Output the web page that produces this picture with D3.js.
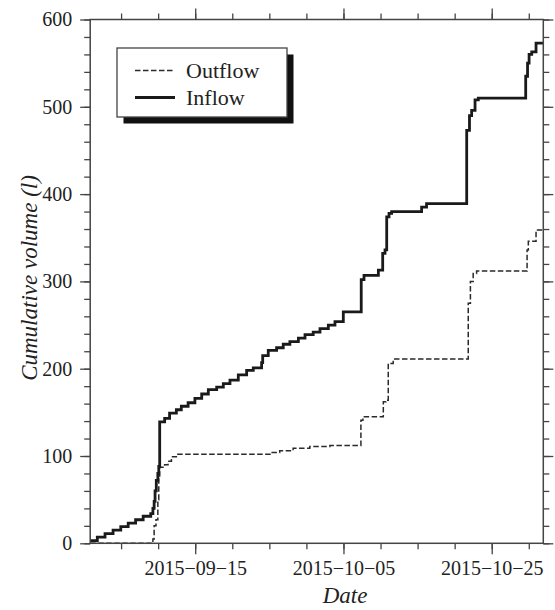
<!DOCTYPE html>
<html>
<head>
<meta charset="utf-8">
<script src="https://cdn.jsdelivr.net/npm/d3@7"></script>
<style>
  html, body { margin: 0; padding: 0; background: #fff; }
  svg { display: block; }
  text { font-family: "Liberation Serif", "DejaVu Serif", serif; fill: #222; }
</style>
</head>
<body>
<svg id="chart" width="555" height="610"></svg>
<script>
// Cumulative inflow record (litres), step changes at logged times
const inflowTimes = [
  "2015-08-31 20:00", "2015-09-01 19:00", "2015-09-02 20:00", "2015-09-03 22:00",
  "2015-09-04 23:00", "2015-09-05 23:00", "2015-09-06 23:00", "2015-09-07 23:30",
  "2015-09-09 00:00", "2015-09-09 07:00", "2015-09-09 11:00", "2015-09-09 14:00",
  "2015-09-09 18:00", "2015-09-09 23:00", "2015-09-10 02:00", "2015-09-10 05:00",
  "2015-09-10 21:00", "2015-09-11 13:00", "2015-09-12 11:00", "2015-09-13 03:00",
  "2015-09-14 01:00", "2015-09-14 23:00", "2015-09-15 21:00", "2015-09-16 18:30",
  "2015-09-17 21:30", "2015-09-18 19:00", "2015-09-19 16:30", "2015-09-20 19:30",
  "2015-09-21 22:30", "2015-09-22 20:00", "2015-09-23 23:00", "2015-09-24 02:30",
  "2015-09-24 20:30", "2015-09-25 23:30", "2015-09-26 21:00", "2015-09-27 18:30",
  "2015-09-28 22:00", "2015-09-29 19:30", "2015-09-30 22:00", "2015-10-01 20:00",
  "2015-10-02 23:00", "2015-10-03 20:30", "2015-10-04 23:30", "2015-10-07 09:30",
  "2015-10-07 18:30", "2015-10-09 17:00", "2015-10-10 07:00", "2015-10-10 14:30",
  "2015-10-10 20:00", "2015-10-11 03:30", "2015-10-11 12:00", "2015-10-15 13:00",
  "2015-10-16 05:00", "2015-10-21 15:00", "2015-10-22 00:00", "2015-10-22 07:00",
  "2015-10-22 18:00", "2015-10-23 04:30", "2015-10-29 14:00", "2015-10-29 20:00",
  "2015-10-30 01:00", "2015-10-30 09:30", "2015-10-30 23:30", "2015-10-31 23:00"
];
const inflowValues = [
  3, 7, 11, 15,
  19, 23, 27, 31,
  34, 40, 48, 60,
  72, 80, 88, 139,
  143, 149, 153, 157,
  161, 166, 171, 176,
  179, 183, 187, 193,
  198, 201, 207, 215,
  221, 224, 228, 231,
  235, 239, 242, 246,
  250, 254, 265, 302,
  307, 313, 332, 336,
  374, 378, 380, 385,
  389, 473, 490, 496,
  508, 510, 535, 550,
  560, 563, 573, 573
];

// Cumulative outflow record (litres)
const outflowTimes = [
  "2015-08-31 20:00", "2015-09-09 07:00", "2015-09-09 11:00", "2015-09-09 17:00",
  "2015-09-09 23:00", "2015-09-10 02:00", "2015-09-10 05:00", "2015-09-10 21:00",
  "2015-09-11 08:00", "2015-09-11 19:00", "2015-09-12 11:00", "2015-09-25 02:00",
  "2015-09-26 09:30", "2015-09-28 05:00", "2015-09-30 11:00", "2015-10-03 04:00",
  "2015-10-07 08:30", "2015-10-07 15:00", "2015-10-10 09:00", "2015-10-10 17:30",
  "2015-10-11 01:00", "2015-10-11 17:00", "2015-10-21 20:00", "2015-10-22 03:00",
  "2015-10-22 12:00", "2015-10-22 23:00", "2015-10-29 18:30", "2015-10-29 22:30",
  "2015-10-30 23:30", "2015-10-31 23:00"
];
const outflowValues = [
  0, 5, 20, 27,
  50, 76, 87, 90,
  94, 99, 102, 104,
  106, 109, 111, 112,
  141, 145, 162, 164,
  206, 211, 275, 300,
  309, 312, 336, 346,
  359, 359
];

// Axis settings
const xDomain = ["2015-08-31 20:00", "2015-10-31 23:00"];
const xMajorTicks = ["2015-09-15", "2015-10-05", "2015-10-25"];
const xMinorRef = "2015-09-15";
const yMajorTicks = [0, 100, 200, 300, 400, 500, 600];
const yMinorStep = 20;
const seriesNames = ["Outflow", "Inflow"];
const xTitle = "Date";
const yTitle = "Cumulative volume (l)";

(function draw() {
  const parseTime = d3.timeParse("%Y-%m-%d %H:%M");
  const parseDay = d3.timeParse("%Y-%m-%d");
  const fmtDay = d3.timeFormat("%Y\u2212%m\u2212%d");

  const svg = d3.select("#chart");
  const pl = 90.2, pr = 543.3, pt = 19.5, pb = 543.3;
  const axisColor = "#444";

  const x = d3.scaleTime().domain(xDomain.map(parseTime)).range([pl, pr]);
  const y = d3.scaleLinear().domain([0, 600]).range([pb, pt]);

  const inflow = inflowTimes.map((t, i) => ({ t: parseTime(t), v: inflowValues[i] }));
  const outflow = outflowTimes.map((t, i) => ({ t: parseTime(t), v: outflowValues[i] }));

  // minor date ticks every 5 days, aligned with the labelled dates
  const ref = parseDay(xMinorRef);
  const xMinor = d3.timeDay.range(d3.timeDay.ceil(x.domain()[0]), x.domain()[1])
    .filter(d => ((d3.timeDay.count(ref, d) % 5) + 5) % 5 === 0);
  const xMajor = xMajorTicks.map(parseDay);
  const yMinor = d3.range(0, 601, yMinorStep);

  function styleAxis(g) {
    g.select(".domain").remove();
    g.selectAll(".tick line").attr("stroke", axisColor).attr("stroke-width", 1.3);
    g.selectAll(".tick text")
      .attr("fill", "#222")
      .style("font-family", "'Liberation Serif', serif")
      .style("font-size", "20px");
  }

  // bottom axis
  svg.append("g").attr("transform", `translate(0,${pb})`)
    .call(d3.axisBottom(x).tickValues(xMinor).tickSize(6).tickFormat(""))
    .call(styleAxis);
  svg.append("g").attr("transform", `translate(0,${pb})`)
    .call(d3.axisBottom(x).tickValues(xMajor).tickSize(11).tickPadding(7).tickFormat(fmtDay))
    .call(styleAxis);
  // top axis
  svg.append("g").attr("transform", `translate(0,${pt})`)
    .call(d3.axisTop(x).tickValues(xMinor).tickSize(6).tickFormat(""))
    .call(styleAxis);
  svg.append("g").attr("transform", `translate(0,${pt})`)
    .call(d3.axisTop(x).tickValues(xMajor).tickSize(11).tickFormat(""))
    .call(styleAxis);
  // left axis
  svg.append("g").attr("transform", `translate(${pl},0)`)
    .call(d3.axisLeft(y).tickValues(yMinor).tickSize(6).tickFormat(""))
    .call(styleAxis);
  svg.append("g").attr("transform", `translate(${pl},0)`)
    .call(d3.axisLeft(y).tickValues(yMajorTicks).tickSize(10).tickPadding(8).tickFormat(d3.format("d")))
    .call(styleAxis);
  // right axis
  svg.append("g").attr("transform", `translate(${pr},0)`)
    .call(d3.axisRight(y).tickValues(yMinor).tickSize(6).tickFormat(""))
    .call(styleAxis);
  svg.append("g").attr("transform", `translate(${pr},0)`)
    .call(d3.axisRight(y).tickValues(yMajorTicks).tickSize(10).tickFormat(""))
    .call(styleAxis);

  // series
  const line = d3.line().x(d => x(d.t)).y(d => y(d.v)).curve(d3.curveStepAfter);
  svg.append("path").datum(outflow)
    .attr("d", line).attr("fill", "none")
    .attr("stroke", "#2a2a2a").attr("stroke-width", 1.5)
    .attr("stroke-dasharray", "5.5,2.5");
  svg.append("path").datum(inflow)
    .attr("d", line).attr("fill", "none")
    .attr("stroke", "#1a1a1a").attr("stroke-width", 2.8);

  // plot frame
  svg.append("rect")
    .attr("x", pl).attr("y", pt)
    .attr("width", pr - pl).attr("height", pb - pt)
    .attr("fill", "none").attr("stroke", axisColor).attr("stroke-width", 1.5);

  // legend with drop shadow
  const lg = svg.append("g");
  lg.append("rect").attr("x", 123.5).attr("y", 54.5).attr("width", 170).attr("height", 69)
    .attr("fill", "#111");
  lg.append("rect").attr("x", 117).attr("y", 48).attr("width", 170).attr("height", 69)
    .attr("fill", "#fff").attr("stroke", axisColor).attr("stroke-width", 1.3);
  const legendRows = [
    { name: seriesNames[0], dash: "5.5,2.5", width: 1.5, color: "#2a2a2a", cy: 70.5 },
    { name: seriesNames[1], dash: null, width: 2.8, color: "#1a1a1a", cy: 97.5 }
  ];
  legendRows.forEach(r => {
    lg.append("line").attr("x1", 135).attr("x2", 175).attr("y1", r.cy).attr("y2", r.cy)
      .attr("stroke", r.color).attr("stroke-width", r.width)
      .attr("stroke-dasharray", r.dash);
    lg.append("text").attr("x", 186).attr("y", r.cy).attr("dy", "0.35em")
      .style("font-size", "22px").text(r.name);
  });

  // axis titles
  svg.append("text").attr("x", 345).attr("y", 603)
    .attr("text-anchor", "middle").style("font-size", "23px").style("font-style", "italic")
    .text(xTitle);
  svg.append("text").attr("transform", "translate(37,278) rotate(-90)")
    .attr("text-anchor", "middle").style("font-size", "23px").style("font-style", "italic")
    .text(yTitle);
})();
</script>
</body>
</html>
